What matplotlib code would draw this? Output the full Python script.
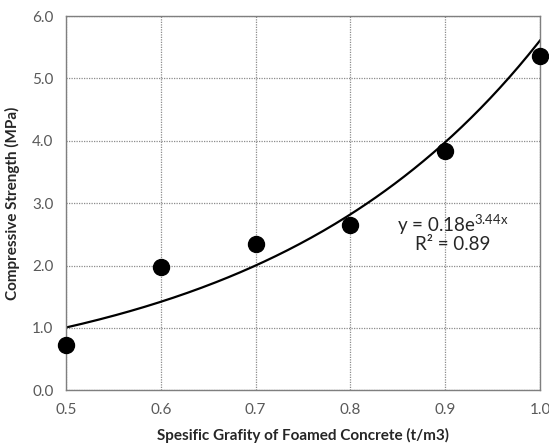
import numpy as np
import matplotlib.pyplot as plt

plt.rcParams['font.family'] = ['Lato', 'DejaVu Sans']

# measured points
gravity = [0.5, 0.6, 0.7, 0.8, 0.9, 1.0]
strength = [0.72, 1.98, 2.34, 2.65, 3.84, 5.36]

# exponential trendline y = a*e^(bx)
fit_a = 0.18
fit_b = 3.44
fit_r2 = 0.89

fig = plt.figure(figsize=(5.49, 4.48), dpi=100)
ax = fig.add_axes([0.120, 0.129, 0.864, 0.835])

xs = np.linspace(0.5, 1.0, 200)
ax.plot(xs, fit_a * np.exp(fit_b * xs), color='black', lw=1.6, zorder=2)
ax.plot(gravity, strength, 'o', color='black', markersize=11.5, zorder=3, clip_on=False)

ax.set_xlim(0.5, 1.0)
ax.set_ylim(0, 6)
ax.set_xticks(np.arange(0.5, 1.01, 0.1))
ax.set_yticks(np.arange(0, 6.01, 1.0))
ax.set_xticklabels([f'{v:.1f}' for v in np.arange(0.5, 1.01, 0.1)])
ax.set_yticklabels([f'{v:.1f}' for v in np.arange(0, 6.01, 1.0)])
ax.tick_params(length=0, labelsize=11, colors='#595959', pad=9)
ax.grid(True, linestyle=(0, (1, 1)), color='#8c8c8c', lw=0.9)
for s in ax.spines.values():
    s.set_color('#7f7f7f')
    s.set_linewidth(1.0)

ax.set_xlabel('Spesific Grafity of Foamed Concrete (t/m3)', fontsize=11,
              fontweight='bold', color='#262626', labelpad=8)
ax.set_ylabel('Compressive Strength (MPa)', fontsize=11,
              fontweight='bold', color='#262626', labelpad=9)

ax.text(0.908, 2.65, f'y = {fit_a}e$^{{\\mathregular{{{fit_b}x}}}}$', ha='center',
        va='center', fontsize=13.5, color='#262626')
ax.text(0.908, 2.33, f'R² = {fit_r2}', ha='center', va='center',
        fontsize=13.5, color='#262626')

fig.savefig('out.png', dpi=100)
